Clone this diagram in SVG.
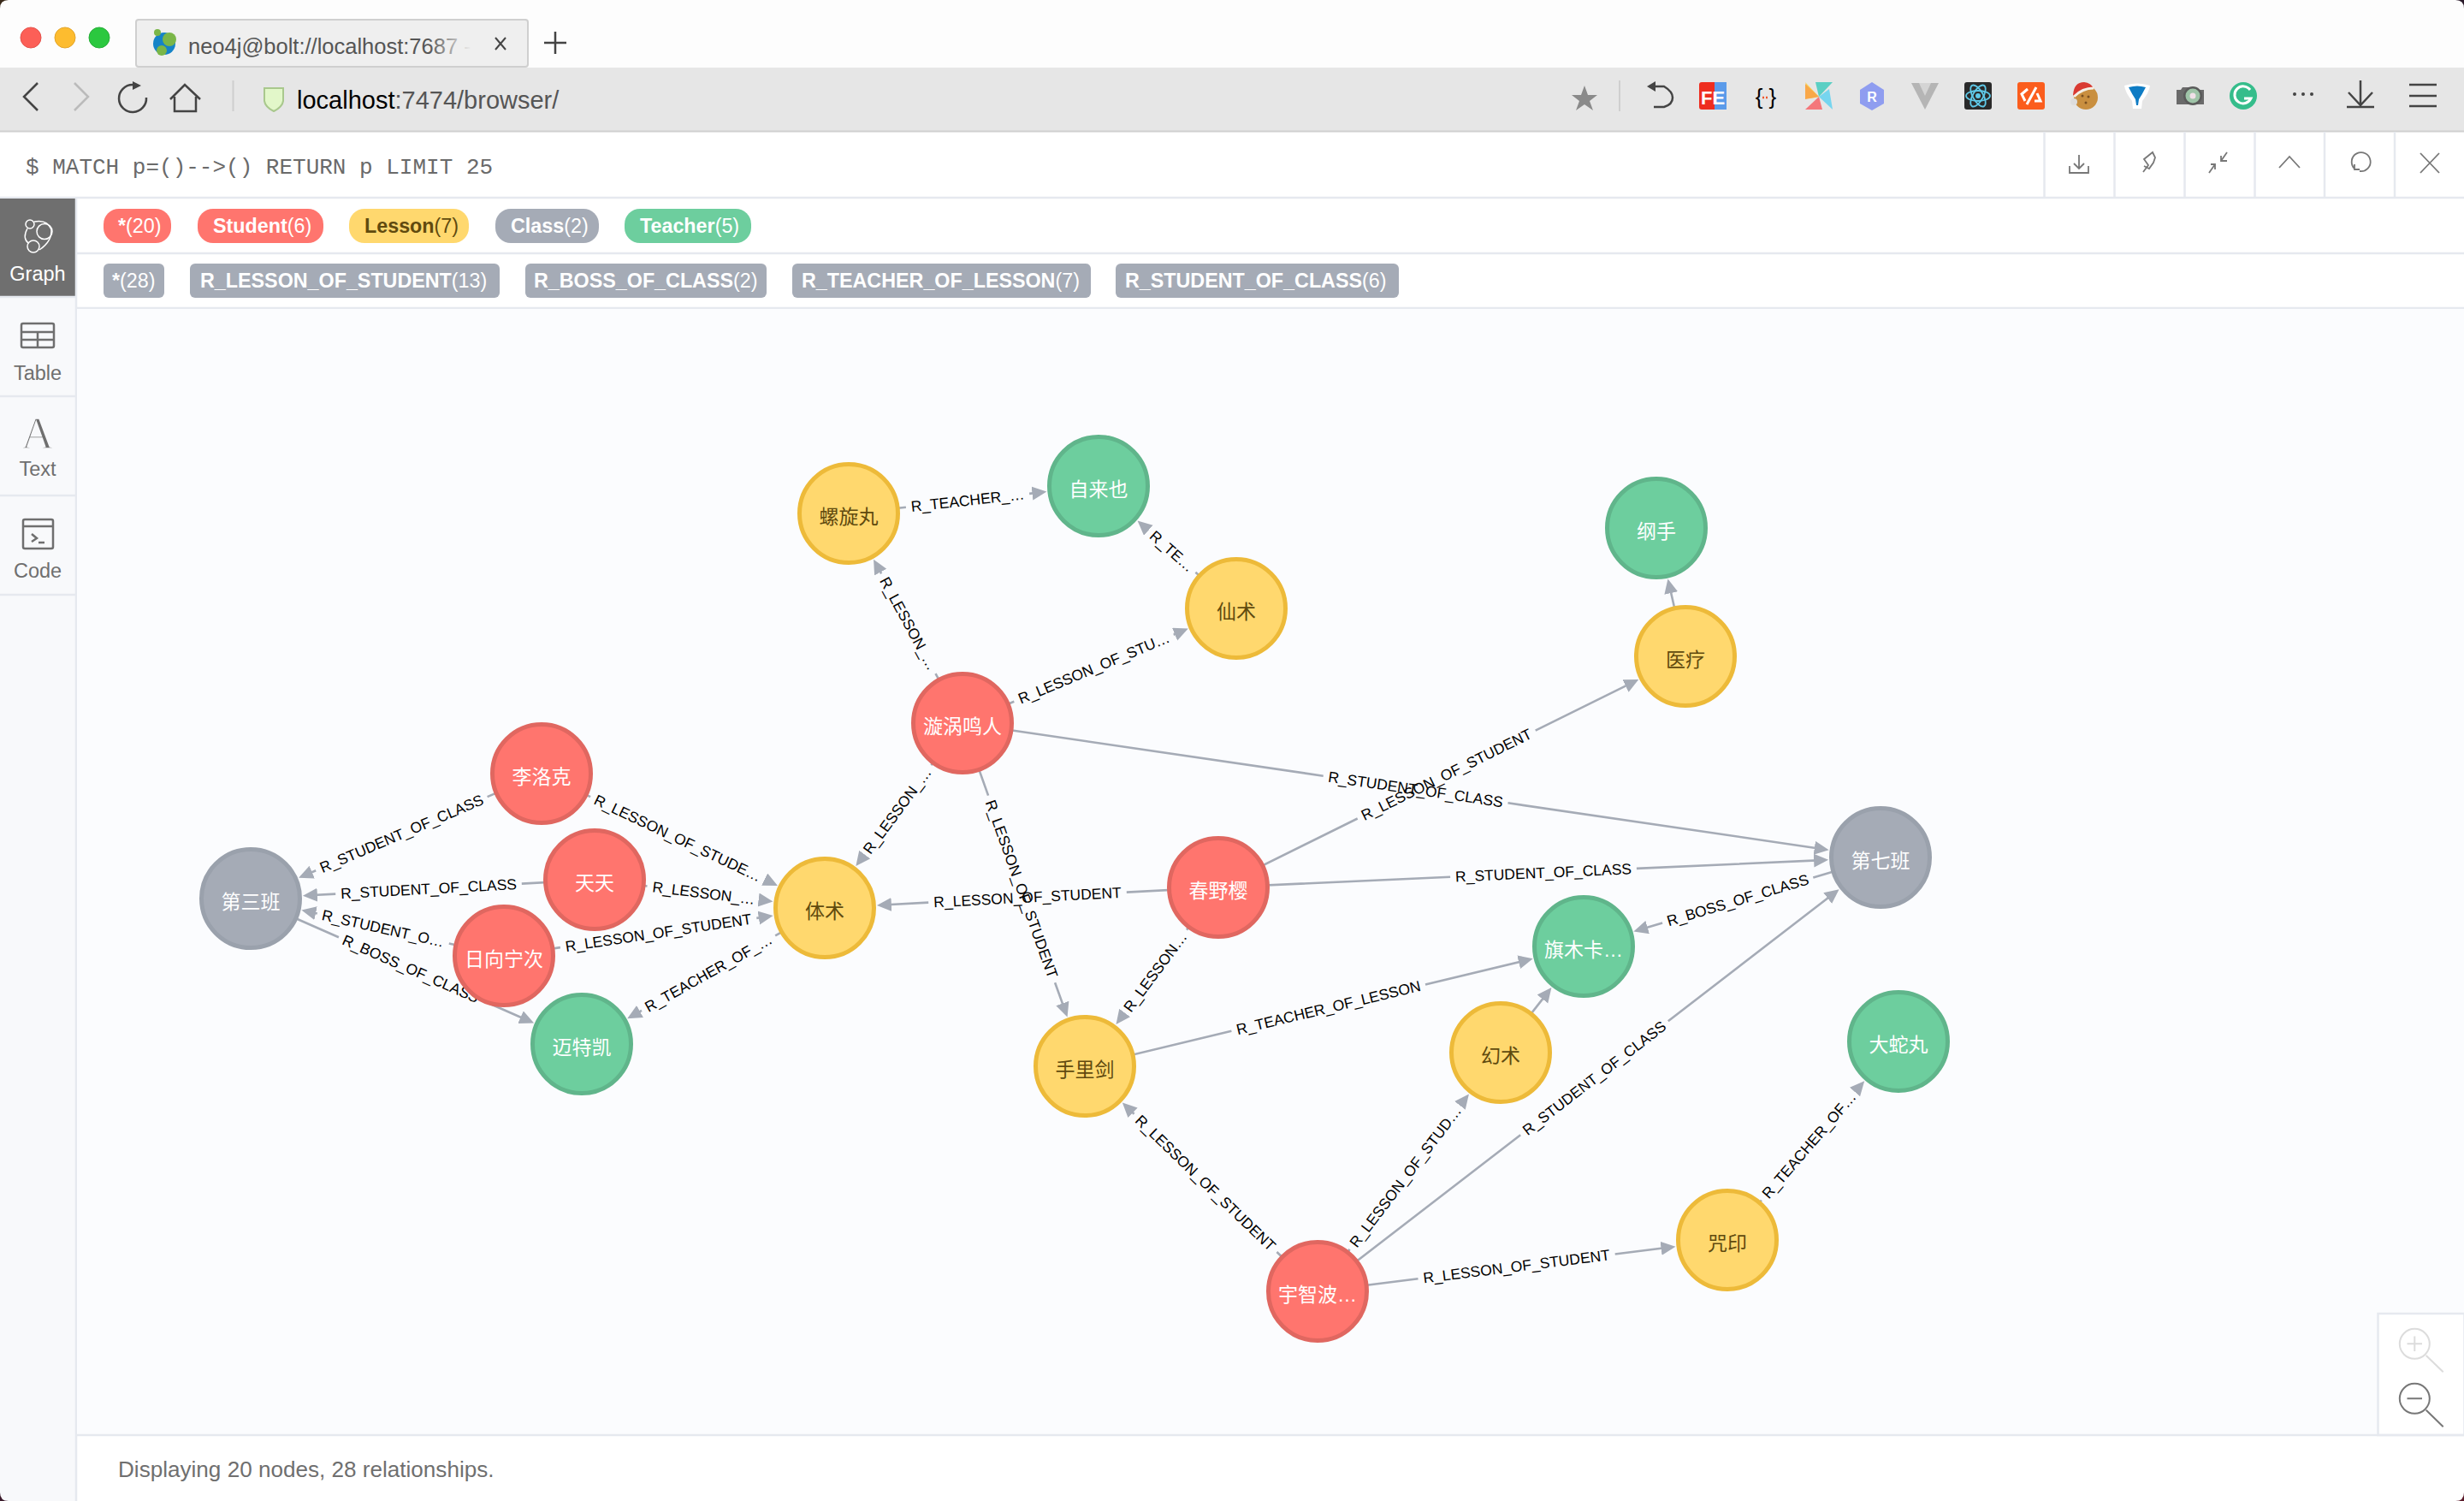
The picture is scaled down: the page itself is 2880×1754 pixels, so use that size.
<svg xmlns="http://www.w3.org/2000/svg" width="2880" height="1754" viewBox="0 0 2880 1754">
<style>
text{font-family:"Liberation Sans","Noto Sans CJK SC",sans-serif}
.ln{stroke:#e6e9ef;stroke-width:2.5;fill:none}
.ic{fill:none;stroke:#444;stroke-width:2.5}
.qb{fill:none;stroke:#777;stroke-width:1.8}
.side{font-size:23.5px;fill:#6f6f6f;text-anchor:middle}
.sic{fill:none;stroke:#6f6f6f;stroke-width:2.5}
.pill{font-size:23.3px;fill:#fff}
.pill tspan.b{font-weight:700}
.edge path{fill:none;stroke:#a5abb6;stroke-width:2.6;marker-end:url(#arrow)}
.edge text{font-size:17.5px;fill:#000;text-anchor:middle}
.node circle{stroke-width:5}
.node text{font-size:23px;text-anchor:middle;fill:#fff}
.student circle{fill:#ff756e;stroke:#e06760}
.lesson circle{fill:#ffd86e;stroke:#edba39}
.lesson text{fill:#604a0e}
.class circle{fill:#a5abb6;stroke:#9aa1ac}
.teacher circle{fill:#6dce9e;stroke:#60b58b}
</style>
<defs>
<marker id="arrow" markerUnits="userSpaceOnUse" markerWidth="20" markerHeight="18" refX="10" refY="8" orient="auto"><path d="M0 0 L17 8 L0 16 Z" fill="#a5abb6"/></marker>
<linearGradient id="fade" x1="0" x2="1" y1="0" y2="0"><stop offset="0.85" stop-color="#555"/><stop offset="1" stop-color="#efefef"/></linearGradient>
</defs>

<rect width="2880" height="1754" fill="#fff"/>
<!-- window chrome -->
<rect width="2880" height="79" fill="#fdfdfd"/>
<rect y="79" width="2880" height="74" fill="#e6e6e6"/>
<path d="M0 153.500H2880" stroke="#d0d0d0" stroke-width="2"/>
<circle cx="36" cy="44" r="12" fill="#fc5f57" stroke="#e5534c"/>
<circle cx="76" cy="44" r="12" fill="#fdbc2f" stroke="#e3a52a"/>
<circle cx="116" cy="44" r="12" fill="#2bc83f" stroke="#27ae38"/>
<rect x="159" y="23" width="458" height="55" rx="3" fill="#efefef" stroke="#cfcfcf" stroke-width="2"/>
<circle cx="192" cy="51" r="13" fill="#1583c7"/>
<circle cx="198" cy="46" r="8" fill="#7ab648"/><circle cx="184" cy="38" r="4" fill="#7ab648"/><circle cx="189" cy="59" r="6" fill="#7ab648"/>
<text x="220" y="63" font-size="25.500" fill="url(#fade)">neo4j@bolt://localhost:7687 -</text>
<path d="M579 44L591 58M591 44L579 58" stroke="#444" stroke-width="2" fill="none"/>
<path d="M649 37V63M636 50H662" stroke="#444" stroke-width="2.500" fill="none"/>
<!-- nav -->
<path class="ic" d="M44 97L28 113L44 129"/>
<path d="M87 97L103 113L87 129" fill="none" stroke="#bbb" stroke-width="2.500"/>
<path class="ic" d="M155 99A16 16 0 1 0 171 114"/><path d="M155 95L165 100L155 105Z" fill="#444"/>
<path class="ic" d="M199 116L216 99L234 116M204 113V130H229V113"/>
<path d="M272.500 94V130" stroke="#cfcfcf" stroke-width="2"/>
<path d="M309 103H331V118Q330 125 320 130Q310 125 309 118Z" fill="#e2f7c9" stroke="#a9c88d" stroke-width="2"/>
<text x="347" y="127" font-size="29" fill="#555"><tspan fill="#000">localhost</tspan>:7474/browser/</text>
<!-- extension icons -->
<path d="M1852 100L1856 111H1867L1858 118L1862 129L1852 122L1842 129L1846 118L1837 111H1848Z" fill="#8a8a8a"/>
<path d="M1893 94V130" stroke="#cfcfcf" stroke-width="2"/>
<path class="ic" d="M1932 101H1945Q1955 107 1955 114Q1955 122 1945 125H1933"/><path d="M1925 101L1935 95V107Z" fill="#444"/>
<rect x="1986" y="96" width="32" height="32" rx="3" fill="#ee2d1f"/><rect x="2004" y="96" width="14" height="32" fill="#5b9bea"/>
<text x="2002" y="122" font-size="22" font-weight="700" fill="#fff" text-anchor="middle">FE</text>
<text x="2064" y="122" font-size="26" fill="#000" text-anchor="middle">{ }</text>
<path d="M2060 114H2068" stroke="#f0562b" stroke-width="2.500" stroke-dasharray="2 2"/>
<path d="M2126 113L2110 96L2116 115Z" fill="#f9d35a"/><path d="M2126 113L2142 96H2122Z" fill="#5bcfc4"/><path d="M2126 113L2142 128L2138 104Z" fill="#76d5ef"/><path d="M2126 113L2110 128H2130Z" fill="#f4777b"/><path d="M2126 113L2110 98V116Z" fill="#f9a849"/>
<path d="M2188 96L2202 105V121L2188 129L2174 121V105Z" fill="#8f9df0"/>
<text x="2188" y="119" font-size="16" font-weight="700" fill="#fff" text-anchor="middle">R</text>
<path d="M2234 97H2266L2250 128Z" fill="#b5b5b5"/><path d="M2243 97H2257L2250 112Z" fill="#d4d4d4"/>
<rect x="2296" y="96" width="32" height="32" rx="3" fill="#2a2a2a"/>
<g fill="none" stroke="#5fc9e8" stroke-width="1.800"><ellipse cx="2312" cy="112" rx="14" ry="6"/><ellipse cx="2312" cy="112" rx="14" ry="6" transform="rotate(60 2312 112)"/><ellipse cx="2312" cy="112" rx="14" ry="6" transform="rotate(120 2312 112)"/></g>
<circle cx="2312" cy="112" r="3" fill="#5fc9e8"/>
<rect x="2358" y="96" width="32" height="32" rx="3" fill="#fb5d1d"/>
<path d="M2370 104L2363 110L2367 118M2380 102L2369 122M2378 118H2385L2381 109" stroke="#fff" stroke-width="3" fill="none"/>
<circle cx="2438" cy="114" r="14" fill="#c98f3f"/>
<g fill="#7a5020"><circle cx="2434" cy="112" r="1.500"/><circle cx="2441" cy="113" r="1.500"/><circle cx="2438" cy="120" r="1.500"/></g>
<path d="M2423 111Q2424 96 2436 96Q2444 97 2447 103Q2434 103 2424 113Z" fill="#d93a32"/><path d="M2424 113Q2434 103 2447 103" fill="none" stroke="#f4efe6" stroke-width="3"/><circle cx="2424" cy="119" r="4" fill="#ddd"/>
<path d="M2483 100Q2498 95 2513 100Q2512 108 2504 118L2503 127H2493L2492 118Q2484 108 2483 100Z" fill="#fff"/><path d="M2488 102Q2498 99 2508 102Q2504 110 2500 116L2499 123H2497L2496 116Q2492 110 2488 102Z" fill="#0f7cc4"/>
<path d="M2544 105H2549L2551 102H2559L2561 105H2576V122H2544Z" fill="#6a6a6a"/><circle cx="2563" cy="112" r="11" fill="#5a5a5a"/><circle cx="2563" cy="112" r="8.500" fill="#9fc4a8"/><circle cx="2563" cy="112" r="3.500" fill="#f0e0e8"/>
<circle cx="2622" cy="112" r="16" fill="#35bd8b"/>
<path d="M2630 105A10 10 0 1 0 2631 115H2623" fill="none" stroke="#fff" stroke-width="3"/>
<g fill="#444"><circle cx="2682" cy="110" r="2"/><circle cx="2692" cy="110" r="2"/><circle cx="2702" cy="110" r="2"/></g>
<path class="ic" d="M2759 94V122M2745 108L2759 123L2773 108M2743 125H2775"/>
<path class="ic" d="M2816 99H2848M2816 112H2848M2816 124H2848"/>
<!-- query bar -->
<text x="30" y="203" font-size="26" style="font-family:'Liberation Mono',monospace" fill="#6a6a6a">$ MATCH p=()--&gt;() RETURN p LIMIT 25</text>
<path class="ln" d="M0 231H2880M2389.500 154V230M2471.500 154V230M2553.500 154V230M2635.500 154V230M2717 154V230M2799 154V230"/>
<path class="qb" d="M2430 181V197M2424 191L2430 197L2436 191M2419 194V202H2441V194"/>
<path class="qb" d="M2505 201L2511 193L2506 186L2516 178L2519 184L2517 190L2512 197L2506 194"/>
<path class="qb" d="M2603 178L2596 188M2596 182V188H2603M2582 202L2589 192M2584 192H2589V198"/>
<path class="qb" d="M2664 196L2676 183L2688 196"/>
<path class="qb" d="M2752 197A11 11 0 1 1 2758 200M2752 192V198H2758"/>
<path class="qb" d="M2829 179L2851 202M2851 179L2829 202"/>
<!-- sidebar -->
<rect y="232" width="88" height="1522" fill="#f8f9fb"/>
<rect y="232" width="88" height="114" fill="#6f6f6f"/>
<path class="ln" d="M89 232V1754M0 347H88M0 463H88M0 579H88M0 695H88"/>
<g fill="none" stroke="#fff" stroke-width="1.500"><circle cx="52" cy="270.500" r="9"/><circle cx="35" cy="262" r="5"/><circle cx="39" cy="288" r="7"/><path d="M40 259Q55 256 60 268Q61 282 46 292M32 267Q26 278 33 284"/></g>
<text class="side" x="44" y="328" style="fill:#fff">Graph</text>
<rect class="sic" x="25" y="378" width="38" height="28" rx="2"/><path class="sic" d="M25 388H63M25 397H63M44 388V406" />
<text class="side" x="44" y="444">Table</text>
<text x="44" y="524" font-size="53" text-anchor="middle" style="font-family:'Liberation Serif',serif;paint-order:fill" fill="#6f6f6f" stroke="#f8f9fb" stroke-width="1.500">A</text>
<text class="side" x="44" y="556">Text</text>
<rect class="sic" x="27" y="607" width="35" height="34" rx="2"/><path class="sic" d="M27 615H62M37 624L43 629L37 633M45 634H52"/>
<text class="side" x="44" y="675">Code</text>
<!-- legend -->
<path class="ln" d="M90 296H2880M90 360H2880"/>
<rect x="121" y="244" width="79" height="40" rx="18" fill="#ff756e"/>
<rect x="231" y="244" width="147" height="40" rx="18" fill="#ff756e"/>
<rect x="408" y="244" width="140" height="40" rx="18" fill="#ffd86e"/>
<rect x="579" y="244" width="121" height="40" rx="18" fill="#a5abb6"/>
<rect x="730" y="244" width="148" height="40" rx="18" fill="#6dce9e"/>
<text class="pill" x="138" y="272"><tspan class="b">*</tspan>(20)</text>
<text class="pill" x="249" y="272"><tspan class="b">Student</tspan>(6)</text>
<text class="pill" x="426" y="272" style="fill:#604a0e"><tspan class="b">Lesson</tspan>(7)</text>
<text class="pill" x="597" y="272"><tspan class="b">Class</tspan>(2)</text>
<text class="pill" x="748" y="272"><tspan class="b">Teacher</tspan>(5)</text>
<rect x="121" y="308" width="71" height="40" rx="6" fill="#a5abb6"/>
<rect x="222" y="308" width="362" height="40" rx="6" fill="#a5abb6"/>
<rect x="614" y="308" width="282" height="40" rx="6" fill="#a5abb6"/>
<rect x="926" y="308" width="349" height="40" rx="6" fill="#a5abb6"/>
<rect x="1304" y="308" width="331" height="40" rx="6" fill="#a5abb6"/>
<text class="pill" x="131" y="336"><tspan class="b">*</tspan>(28)</text>
<text class="pill" x="234" y="336"><tspan class="b">R_LESSON_OF_STUDENT</tspan>(13)</text>
<text class="pill" x="624" y="336"><tspan class="b">R_BOSS_OF_CLASS</tspan>(2)</text>
<text class="pill" x="937" y="336"><tspan class="b">R_TEACHER_OF_LESSON</tspan>(7)</text>
<text class="pill" x="1315" y="336"><tspan class="b">R_STUDENT_OF_CLASS</tspan>(6)</text>
<!-- canvas -->
<rect x="90" y="361" width="2790" height="1315" fill="#fbfcfe"/>

<g id="connectors">
<g class="edge" id="e1"><path d="M633 904L569.600 931.100M369.200 1017.300L355.500 1023.100"/><text transform="translate(469.400 974.200) rotate(-23.200)" y="6">R_STUDENT_OF_CLASS</text></g>
<g class="edge" id="e2"><path d="M695 1028L609.800 1032.600M392.200 1044.600L360.900 1046.300"/><text transform="translate(501 1038.600) rotate(-3.100)" y="6">R_STUDENT_OF_CLASS</text></g>
<g class="edge" id="e3"><path d="M589 1117L524.800 1102.500M370.800 1067.500L359.300 1065"/><text transform="translate(447.800 1085) rotate(12.750)" y="6">R_STUDENT_O…</text></g>
<g class="edge" id="e4"><path d="M293 1050L395.900 1095.200M564.300 1169.200L617.700 1192.700"/><text transform="translate(480.100 1132.200) rotate(23.700)" y="6">R_BOSS_OF_CLASS</text></g>
<g class="edge" id="e5"><path d="M633 904L690.100 931.100M894.300 1027.900L902.600 1031.900"/><text transform="translate(792.200 979.500) rotate(25.400)" y="6">R_LESSON_OF_STUDE…</text></g>
<g class="edge" id="e6"><path d="M695 1028L756.500 1035.500M888.500 1051.700L896.500 1052.700"/><text transform="translate(822.500 1043.600) rotate(7)" y="6">R_LESSON_…</text></g>
<g class="edge" id="e7"><path d="M589 1117L654.900 1107.100M884.300 1072.900L896.700 1071"/><text transform="translate(769.600 1090) rotate(-8.500)" y="6">R_LESSON_OF_STUDENT</text></g>
<g class="edge" id="e8"><path d="M964 1061L906.200 1093.400M750 1180.800L739.300 1186.800"/><text transform="translate(828.100 1137.100) rotate(-29.200)" y="6">R_TEACHER_OF_…</text></g>
<g class="edge" id="e9"><path d="M1125 845L1088.400 894.100M1009 1000.700L1004.600 1006.500"/><text transform="translate(1048.700 947.400) rotate(-53.300)" y="6">R_LESSON_…</text></g>
<g class="edge" id="e10"><path d="M1424 1037L1316.800 1042.600M1085.200 1054.600L1031.900 1057.500"/><text transform="translate(1201 1048.600) rotate(-3)" y="6">R_LESSON_OF_STUDENT</text></g>
<g class="edge" id="e11"><path d="M1125 845L1155.100 929.600M1233.100 1148.200L1245.200 1181.900"/><text transform="translate(1194.100 1038.900) rotate(70.400)" y="6">R_LESSON_OF_STUDENT</text></g>
<g class="edge" id="e12"><path d="M1424 1037L1387 1086.600M1313.400 1185.200L1308.700 1191.500"/><text transform="translate(1350.200 1135.900) rotate(-53.300)" y="6">R_LESSON…</text></g>
<g class="edge" id="e13"><path d="M1540 1509L1492.400 1463M1325.600 1301.800L1316.900 1293.300"/><text transform="translate(1409 1382.400) rotate(44)" y="6">R_LESSON_OF_STUDENT</text></g>
<g class="edge" id="e14"><path d="M1268 1246L1439.400 1204.800M1666 1150.400L1784.900 1121.900"/><text transform="translate(1552.700 1177.600) rotate(-13.500)" y="6">R_TEACHER_OF_LESSON</text></g>
<g class="edge" id="e15"><path d="M1125 845L1093.500 787.100M1030.100 670.300L1024.400 659.800"/><text transform="translate(1061.800 728.700) rotate(61.500)" y="6">R_LESSON_…</text></g>
<g class="edge" id="e16"><path d="M1125 845L1185.300 819.700M1371.700 741.700L1382.300 737.300"/><text transform="translate(1278.500 780.700) rotate(-22.700)" y="6">R_LESSON_OF_STU…</text></g>
<g class="edge" id="e17"><path d="M992 600L1058.900 592.700M1203.100 576.900L1216.400 575.400"/><text transform="translate(1131 584.800) rotate(-6.300)" y="6">R_TEACHER_…</text></g>
<g class="edge" id="e18"><path d="M1445 711L1397.400 668.700M1342 619.500L1334.800 613.200"/><text transform="translate(1369.700 644.100) rotate(41.600)" y="6">R_TE…</text></g>
<g class="edge" id="e19"><path d="M1125 845L1546.700 906.700M1762.500 938.300L2130.700 992.200"/><text transform="translate(1654.600 922.500) rotate(8.300)" y="6">R_STUDENT_OF_CLASS</text></g>
<g class="edge" id="e20"><path d="M1424 1037L1586.700 956.500M1794.700 853.700L1909 797.100"/><text transform="translate(1690.700 905.100) rotate(-26.300)" y="6">R_LESSON_OF_STUDENT</text></g>
<g class="edge" id="e21"><path d="M1424 1037L1695.100 1024.700M1912.900 1014.900L2130.100 1005.100"/><text transform="translate(1804 1019.800) rotate(-2.600)" y="6">R_STUDENT_OF_CLASS</text></g>
<g class="edge" id="e22"><path d="M1970 767L1951 683.300"/></g>
<g class="edge" id="e23"><path d="M2198 1002L2119.300 1025.600M1943.100 1078.400L1916.100 1086.500"/><text transform="translate(2031.200 1052) rotate(-16.700)" y="6">R_BOSS_OF_CLASS</text></g>
<g class="edge" id="e24"><path d="M1754 1230L1809.100 1159.600"/></g>
<g class="edge" id="e25"><path d="M1540 1509L1577.600 1459.900M1707.800 1290.100L1712.600 1284"/><text transform="translate(1642.700 1375) rotate(-52.500)" y="6">R_LESSON_OF_STUD…</text></g>
<g class="edge" id="e26"><path d="M1540 1509L1777.200 1326.300M1949.800 1193.300L2144.100 1043.500"/><text transform="translate(1863.500 1259.800) rotate(-37.600)" y="6">R_STUDENT_OF_CLASS</text></g>
<g class="edge" id="e27"><path d="M1540 1509L1657.500 1494.300M1887.700 1465.500L1951.500 1457.500"/><text transform="translate(1772.600 1479.900) rotate(-7.100)" y="6">R_LESSON_OF_STUDENT</text></g>
<g class="edge" id="e28"><path d="M2019 1449L2058.900 1402.700M2169.900 1273.900L2174.600 1268.500"/><text transform="translate(2114.400 1338.300) rotate(-49.200)" y="6">R_TEACHER_OF…</text></g>
</g>

<g id="n-disan" class="node class"><circle cx="293" cy="1050" r="57.500"/><text x="293" y="1062">第三班</text></g>
<g id="n-lee" class="node student"><circle cx="633" cy="904" r="57.500"/><text x="633" y="916">李洛克</text></g>
<g id="n-tenten" class="node student"><circle cx="695" cy="1028" r="57.500"/><text x="695" y="1040">天天</text></g>
<g id="n-hinata" class="node student"><circle cx="589" cy="1117" r="57.500"/><text x="589" y="1129">日向宁次</text></g>
<g id="n-guy" class="node teacher"><circle cx="680" cy="1220" r="57.500"/><text x="680" y="1232">迈特凯</text></g>
<g id="n-taijutsu" class="node lesson"><circle cx="964" cy="1061" r="57.500"/><text x="964" y="1073">体术</text></g>
<g id="n-rasengan" class="node lesson"><circle cx="992" cy="600" r="57.500"/><text x="992" y="612">螺旋丸</text></g>
<g id="n-jiraiya" class="node teacher"><circle cx="1284" cy="568" r="57.500"/><text x="1284" y="580">自来也</text></g>
<g id="n-senjutsu" class="node lesson"><circle cx="1445" cy="711" r="57.500"/><text x="1445" y="723">仙术</text></g>
<g id="n-naruto" class="node student"><circle cx="1125" cy="845" r="57.500"/><text x="1125" y="857">漩涡鸣人</text></g>
<g id="n-sakura" class="node student"><circle cx="1424" cy="1037" r="57.500"/><text x="1424" y="1049">春野樱</text></g>
<g id="n-shuriken" class="node lesson"><circle cx="1268" cy="1246" r="57.500"/><text x="1268" y="1258">手里剑</text></g>
<g id="n-genjutsu" class="node lesson"><circle cx="1754" cy="1230" r="57.500"/><text x="1754" y="1242">幻术</text></g>
<g id="n-kakashi" class="node teacher"><circle cx="1851" cy="1106" r="57.500"/><text x="1851" y="1118">旗木卡…</text></g>
<g id="n-tsunade" class="node teacher"><circle cx="1936" cy="617" r="57.500"/><text x="1936" y="629">纲手</text></g>
<g id="n-medical" class="node lesson"><circle cx="1970" cy="767" r="57.500"/><text x="1970" y="779">医疗</text></g>
<g id="n-qiban" class="node class"><circle cx="2198" cy="1002" r="57.500"/><text x="2198" y="1014">第七班</text></g>
<g id="n-sasuke" class="node student"><circle cx="1540" cy="1509" r="57.500"/><text x="1540" y="1521">宇智波…</text></g>
<g id="n-seal" class="node lesson"><circle cx="2019" cy="1449" r="57.500"/><text x="2019" y="1461">咒印</text></g>
<g id="n-orochimaru" class="node teacher"><circle cx="2219" cy="1217" r="57.500"/><text x="2219" y="1229">大蛇丸</text></g>

<!-- zoom panel and footer -->
<rect x="2779.500" y="1535" width="101" height="142" fill="#fff" stroke="#e6e9ef" stroke-width="2.500"/>
<g fill="none" stroke="#dcdcdc" stroke-width="2"><circle cx="2822.300" cy="1570.300" r="17.500"/><path d="M2835.700 1584L2855.700 1603.300M2813.500 1570.300H2831M2822.300 1561.500V1579"/></g>
<g fill="none" stroke="#777" stroke-width="2"><circle cx="2822.300" cy="1634.300" r="17.500"/><path d="M2835.700 1647.700L2855.700 1667.300M2813.500 1634.300H2831"/></g>
<path class="ln" d="M90 1677H2880"/>
<text x="138" y="1726" font-size="26.100" fill="#6f6f6f">Displaying 20 nodes, 28 relationships.</text>
<!-- window corners -->
<path d="M0 0H10Q0 0 0 10Z" fill="#3a2a1a"/><path d="M2880 0H2870Q2880 0 2880 10Z" fill="#2a1a2a"/><path d="M0 1754H10Q0 1754 0 1744Z" fill="#3a1a2a"/><path d="M2880 1754H2870Q2880 1754 2880 1744Z" fill="#5a1a2a"/>
</svg>
